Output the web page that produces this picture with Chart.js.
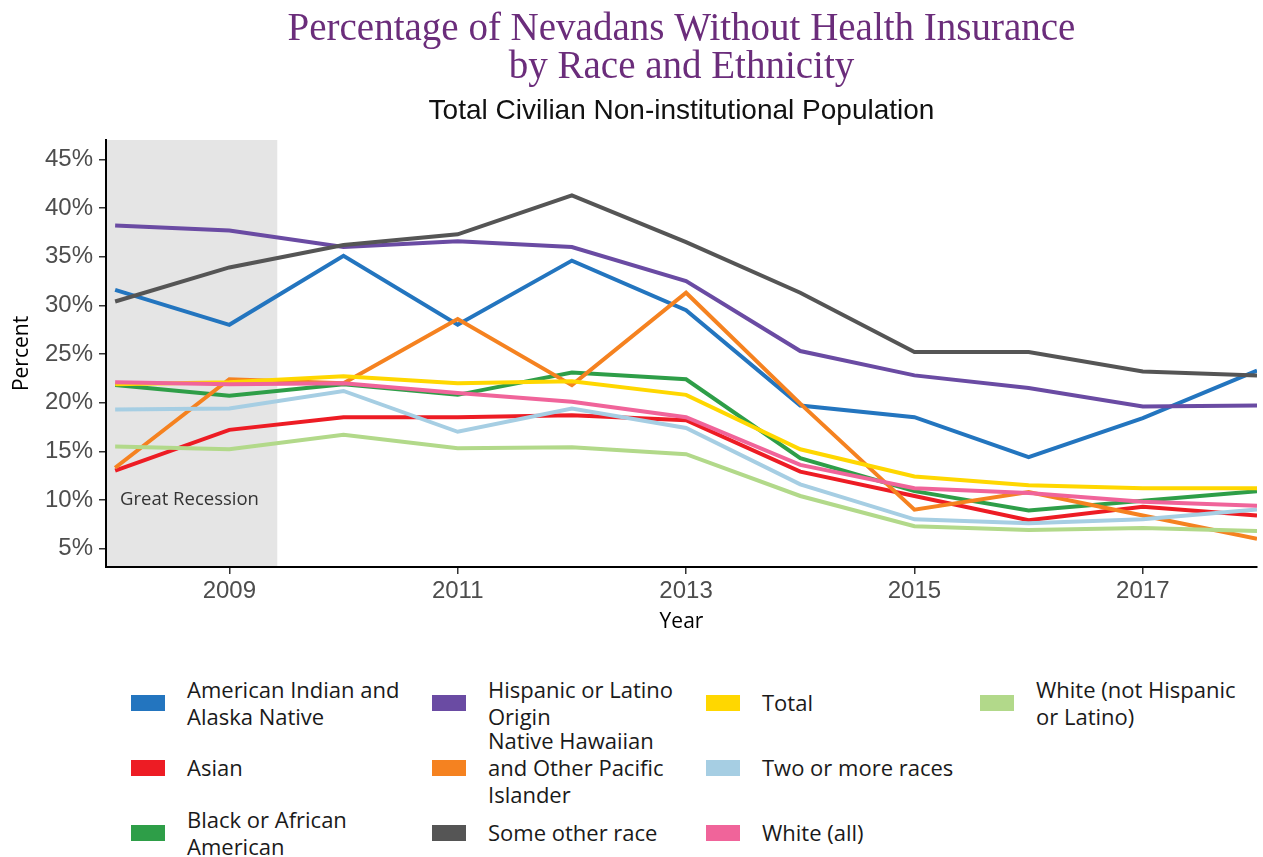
<!DOCTYPE html>
<html>
<head>
<meta charset="utf-8">
<title>Nevadans Without Health Insurance</title>
<script src="https://cdn.jsdelivr.net/npm/chart.js@4.4.1/dist/chart.umd.min.js"></script>
<style>
  body { margin: 0; background: #fff; }
  #wrap { position: relative; width: 1263px; height: 857px; overflow: hidden; }
  #chartBox { position: absolute; left: 0; top: 0; width: 1263px; height: 650px; }
  #legend {
    position: absolute; left: 131px; top: 670px;
    display: grid; grid-auto-flow: column;
    grid-template-rows: repeat(3, 65px);
    grid-template-columns: 301px 274px 274px 280px;
    font-family: 'Open Sans', sans-serif; font-size: 22px; line-height: 27px; color: #1a1a1a;
  }
  .item { display: flex; align-items: center; }
  .sw { width: 34px; height: 16px; flex: none; margin-right: 22px; }
  .item:nth-child(-n+3) .txt { width: 240px; }
  .item:nth-child(n+4):nth-child(-n+6) .txt { width: 200px; }
  .item:nth-child(n+7) .txt { width: 215px; }
</style>
</head>
<body>
<div id="wrap">
  <div id="chartBox"><canvas id="chart"></canvas></div>
  <div id="legend"></div>
</div>
<script>
// years on the x axis
var years = [2008, 2009, 2010, 2011, 2012, 2013, 2014, 2015, 2016, 2017, 2018];
var xTicks = [2009, 2011, 2013, 2015, 2017];
var yTicks = [5, 10, 15, 20, 25, 30, 35, 40, 45];
var recessionEnd = 2009.42;

// percent uninsured
var amIndian   = [31.6, 28.0, 35.1, 28.0, 34.6, 29.5, 19.7, 18.5, 14.4, 18.4, 23.3];
var asian      = [13.0, 17.2, 18.5, 18.5, 18.7, 18.2, 12.9, 10.4, 7.9, 9.3, 8.4];
var black      = [21.8, 20.7, 21.9, 20.8, 23.1, 22.4, 14.3, 10.9, 8.9, 9.9, 10.9];
var hispanic   = [38.2, 37.7, 36.0, 36.6, 36.0, 32.5, 25.3, 22.8, 21.5, 19.6, 19.7];
var hawaiian   = [13.3, 22.4, 22.0, 28.6, 21.8, 31.3, 19.9, 9.0, 10.8, 8.4, 6.0];
var otherRace  = [30.4, 33.9, 36.2, 37.3, 41.3, 36.5, 31.3, 25.2, 25.2, 23.2, 22.8];
var total      = [21.9, 22.1, 22.7, 22.0, 22.2, 20.8, 15.2, 12.4, 11.5, 11.2, 11.2];
var twoOrMore  = [19.3, 19.4, 21.2, 17.0, 19.4, 17.4, 11.6, 8.0, 7.6, 8.0, 9.0];
var whiteAll   = [22.1, 21.9, 22.0, 21.0, 20.1, 18.5, 13.6, 11.2, 10.7, 9.8, 9.4];
var whiteNonHisp = [15.5, 15.2, 16.7, 15.3, 15.4, 14.7, 10.4, 7.3, 6.9, 7.1, 6.8];

var seriesNames = [
  'American Indian and Alaska Native', 'Asian', 'Black or African American',
  'Hispanic or Latino Origin', 'Native Hawaiian and Other Pacific Islander', 'Some other race',
  'Total', 'Two or more races', 'White (all)', 'White (not Hispanic or Latino)'
];
var seriesData = [amIndian, asian, black, hispanic, hawaiian, otherRace, total, twoOrMore, whiteAll, whiteNonHisp];
var seriesColors = ['#2375bf', '#ed1c24', '#2e9e48', '#6a4ba3', '#f58220', '#555555',
                    '#ffd700', '#a6cee3', '#f0649a', '#b2d98a'];

var datasets = seriesNames.map(function(name, i) {
  return {
    label: name,
    data: years.map(function(yr, j) { return {x: yr, y: seriesData[i][j]}; }),
    borderColor: seriesColors[i],
    backgroundColor: seriesColors[i],
    borderWidth: 4,
    pointRadius: 0,
    tension: 0,
    fill: false,
    order: -i
  };
});

// grey band + label for the recession
var recessionShade = {
  id: 'recessionShade',
  beforeDraw: function(chart) {
    var ctx = chart.ctx, area = chart.chartArea;
    var xEnd = chart.scales.x.getPixelForValue(recessionEnd);
    ctx.save();
    ctx.fillStyle = '#e5e5e5';
    ctx.fillRect(area.left, area.top, xEnd - area.left, area.bottom - area.top);
    ctx.fillStyle = '#333333';
    ctx.font = '18.5px "Open Sans"';
    ctx.textBaseline = 'middle';
    ctx.fillText('Great Recession', area.left + 14, chart.scales.y.getPixelForValue(10));
    ctx.restore();
  }
};

var axisGrid = { drawOnChartArea: false, tickLength: 7, color: '#333333', lineWidth: 1.5 };
var axisBorder = { color: '#000000', width: 2 };
var tickFont = { family: 'Liberation Sans', size: 24 };

var chart = new Chart(document.getElementById('chart'), {
  type: 'line',
  data: { datasets: datasets },
  plugins: [recessionShade],
  options: {
    responsive: true,
    maintainAspectRatio: false,
    animation: false,
    layout: { padding: { left: 0, right: 6, top: 0, bottom: 0 } },
    plugins: {
      legend: { display: false },
      tooltip: { enabled: false },
      title: {
        display: true,
        fullSize: false,
        text: ['Percentage of Nevadans Without Health Insurance', 'by Race and Ethnicity'],
        color: '#6b2d7b',
        font: { family: 'Liberation Serif', size: 39, weight: 'normal', lineHeight: '38px' },
        padding: { top: 11, bottom: 0 }
      },
      subtitle: {
        display: true,
        fullSize: false,
        text: 'Total Civilian Non-institutional Population',
        color: '#111111',
        font: { family: 'Liberation Sans', size: 28, lineHeight: 1.2 },
        padding: { top: 7.7, bottom: 11.7 }
      }
    },
    scales: {
      x: {
        type: 'linear',
        min: 2007.92,
        max: 2018,
        afterBuildTicks: function(s) { s.ticks = xTicks.map(function(v) { return {value: v}; }); },
        afterFit: function(s) { s.height = 83; },
        ticks: { color: '#4d4d4d', font: tickFont, padding: 3, maxRotation: 0, autoSkip: false,
                 callback: function(v) { return String(v); } },
        grid: axisGrid,
        border: axisBorder,
        title: { display: true, text: 'Year', color: '#000000',
                 font: { family: 'Open Sans', size: 21 }, padding: { top: 4, bottom: 15 } }
      },
      y: {
        min: 3.1,
        max: 47,
        afterBuildTicks: function(s) { s.ticks = yTicks.map(function(v) { return {value: v}; }); },
        afterFit: function(s) { s.width = 106; },
        ticks: { color: '#4d4d4d', font: tickFont, padding: 6,
                 callback: function(v) { return v + '%'; } },
        grid: axisGrid,
        border: axisBorder,
        title: { display: true, text: 'Percent', color: '#000000',
                 font: { family: 'Open Sans', size: 21 }, padding: { top: 9, bottom: 0 } }
      }
    }
  }
});

// html legend, column by column like the original
var legendEl = document.getElementById('legend');
chart.data.datasets.forEach(function(ds) {
  var item = document.createElement('div');
  item.className = 'item';
  var sw = document.createElement('span');
  sw.className = 'sw';
  sw.style.background = ds.borderColor;
  var txt = document.createElement('span');
  txt.className = 'txt';
  txt.textContent = ds.label;
  item.appendChild(sw);
  item.appendChild(txt);
  legendEl.appendChild(item);
});
</script>
</body>
</html>
